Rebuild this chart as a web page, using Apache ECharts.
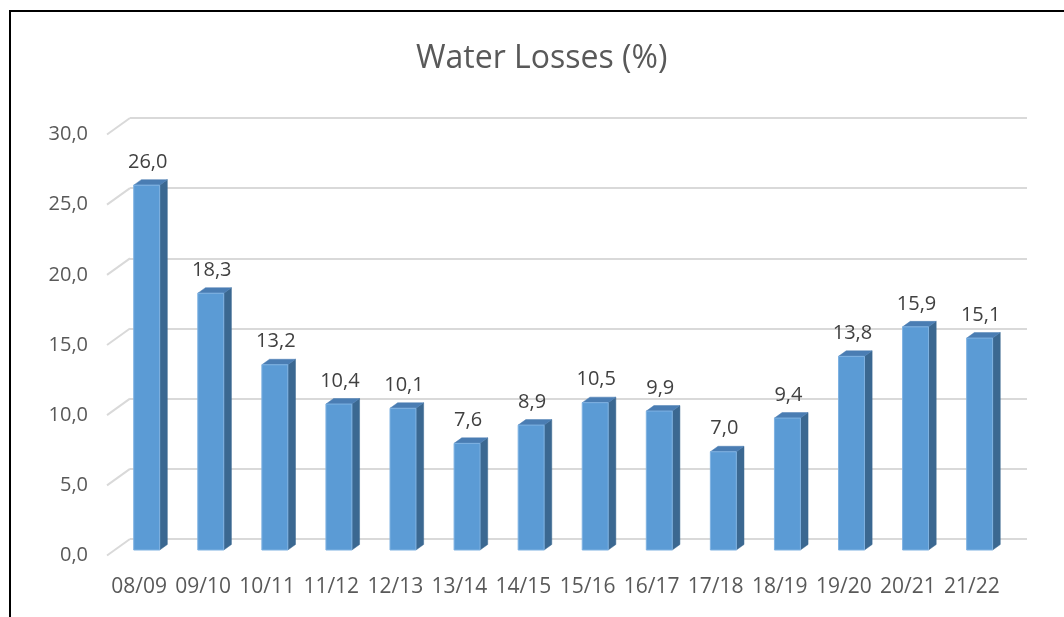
<!DOCTYPE html>
<html>
<head>
<meta charset="utf-8">
<title>Water Losses (%)</title>
<script src="https://cdn.jsdelivr.net/npm/echarts@6/dist/echarts.min.js"></script>
<style>
  html, body { margin: 0; padding: 0; background: #ffffff; }
  #chart { width: 1064px; height: 617px; }
</style>
</head>
<body>
<div id="chart"></div>
<script>
// Seasons on the category axis
const categories = ['08/09', '09/10', '10/11', '11/12', '12/13', '13/14', '14/15',
                    '15/16', '16/17', '17/18', '18/19', '19/20', '20/21', '21/22'];
// Water losses per season, in percent
const lossValues = [26.0, 18.3, 13.2, 10.4, 10.1, 7.6, 8.9, 10.5, 9.9, 7.0, 9.4, 13.8, 15.9, 15.1];
// Value axis ticks
const yTicks = [0, 5, 10, 15, 20, 25, 30];

const FONT = '"Open Sans", "Liberation Sans", sans-serif';
// Perspective depth of the floor (front edge -> back wall), in pixels
const DEPTH = [23, -16.5];
const fmt = v => v.toFixed(1).replace('.', ',');

const chart = echarts.init(document.getElementById('chart'), null, { renderer: 'canvas' });

// 3D-looking bar: front face, right side face and top face
function renderBar(params, api) {
  const idx = api.value(0);
  const val = api.value(1);
  const base = api.coord([idx, 0]);
  const top = api.coord([idx, val]);
  const bw = api.size([1, 0])[0] * 0.405;
  const ox = DEPTH[0] / 3, oy = DEPTH[1] / 3;   // bar sits in the middle third of the floor depth
  const dx = DEPTH[0] / 3, dy = DEPTH[1] / 3;   // bar thickness in depth
  const x = base[0] - bw / 2 + ox;
  const y = top[1] + oy;
  const h = base[1] - top[1];
  return {
    type: 'group',
    children: [
      {
        type: 'polygon',
        shape: { points: [[x + bw, y], [x + bw + dx, y + dy], [x + bw + dx, y + h + dy], [x + bw, y + h]] },
        style: { fill: '#3b6891', stroke: '#3b6891', lineWidth: 0.5 }
      },
      {
        type: 'polygon',
        shape: { points: [[x, y], [x + dx, y + dy], [x + bw + dx, y + dy], [x + bw, y]] },
        style: { fill: '#4a7db3', stroke: '#4a7db3', lineWidth: 0.5 }
      },
      {
        type: 'rect',
        shape: { x: x, y: y, width: bw, height: h },
        style: { fill: '#5b9bd5', stroke: '#7fb2e2', lineWidth: 1 }
      },
      {
        type: 'text',
        style: {
          x: x + bw / 2 + 1,
          y: y - 23,
          text: fmt(val),
          align: 'center',
          verticalAlign: 'middle',
          fill: '#404040',
          font: '20px ' + FONT
        }
      }
    ]
  };
}

// Slanted floor-edge ticks connecting the front axis to the back-wall gridlines
function renderDiagonal(params, api) {
  const v = api.value(0);
  const p = api.coord([0, v]);
  const x0 = params.coordSys.x;
  return {
    type: 'line',
    shape: { x1: x0, y1: p[1], x2: x0 + DEPTH[0], y2: p[1] + DEPTH[1] },
    style: { stroke: '#d9d9d9', lineWidth: 2 }
  };
}

const option = {
  backgroundColor: '#ffffff',
  animation: false,
  title: {
    text: 'Water Losses (%)',
    left: 411,
    top: 38,
    textStyle: { fontFamily: FONT, fontSize: 32, fontWeight: 'normal', color: '#595959' }
  },
  grid: [
    // front edge of the floor: carries the axis labels and the bars
    { left: 107, right: 60, top: 134.5, bottom: 61.5 },
    // back wall: carries the gridlines
    { left: 130, right: 37, top: 118, bottom: 78 }
  ],
  xAxis: [
    {
      type: 'category', gridIndex: 0, data: categories,
      axisLine: { show: false }, axisTick: { show: false },
      axisLabel: { interval: 0, margin: 21, fontFamily: FONT, fontSize: 21, color: '#595959' }
    },
    {
      type: 'category', gridIndex: 1, data: categories, show: false
    }
  ],
  yAxis: [
    {
      type: 'value', gridIndex: 0, min: 0, max: 30, interval: 5,
      axisLine: { show: false }, axisTick: { show: false }, splitLine: { show: false },
      axisLabel: { margin: 19, fontFamily: FONT, fontSize: 20, color: '#595959', formatter: v => fmt(v) }
    },
    {
      type: 'value', gridIndex: 1, min: 0, max: 30, interval: 5,
      axisLine: { show: false }, axisTick: { show: false }, axisLabel: { show: false },
      splitLine: { show: true, lineStyle: { color: '#d9d9d9', width: 2 } }
    }
  ],
  graphic: [
    {
      type: 'polyline',
      shape: { points: [[10, 617], [10, 11], [1064, 11]] },
      style: { stroke: '#000000', lineWidth: 2, fill: null },
      z: 100
    }
  ],
  series: [
    {
      type: 'custom', name: 'floor',
      xAxisIndex: 0, yAxisIndex: 0,
      data: yTicks.map(v => [v]),
      renderItem: renderDiagonal,
      silent: true, z: 1
    },
    {
      type: 'custom', name: 'Water Losses (%)',
      xAxisIndex: 0, yAxisIndex: 0,
      data: lossValues.map((v, i) => [i, v]),
      renderItem: renderBar,
      z: 5
    }
  ]
};

chart.setOption(option);
</script>
</body>
</html>
